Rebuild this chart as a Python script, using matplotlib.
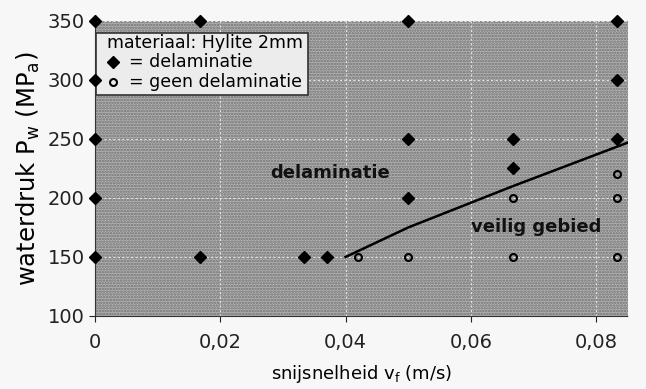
import numpy as np
import matplotlib
matplotlib.use("Agg")
from matplotlib import pyplot as plt
from matplotlib.patches import Rectangle
from matplotlib.ticker import FuncFormatter

# delaminatie (filled diamonds)
delam_x = [0, 0, 0, 0, 0, 0.0167, 0.0167, 0.0333, 0.037,
           0.05, 0.05, 0.05, 0.0667, 0.0667, 0.0833, 0.0833, 0.0833]
delam_y = [350, 300, 250, 200, 150, 350, 150, 150, 150,
           350, 250, 200, 250, 225, 350, 300, 250]

# geen delaminatie (open circles)
safe_x = [0.042, 0.05, 0.0667, 0.0667, 0.0833, 0.0833, 0.0833]
safe_y = [150, 150, 200, 150, 220, 200, 150]

# grenslijn
border_x = [0.04, 0.05, 0.0667, 0.0851]
border_y = [150, 175, 210, 247]

x_ticks = [0, 0.02, 0.04, 0.06, 0.08]
y_ticks = [100, 150, 200, 250, 300, 350]

plt.rcParams['font.family'] = ['DejaVu Sans']
plt.rcParams['hatch.linewidth'] = 1.2

fig = plt.figure(figsize=(6.46, 3.89), dpi=100)
fig.patch.set_facecolor('#f7f7f7')
ax = fig.add_axes([0.1471, 0.1877, 0.8251, 0.7584])

ax.set_facecolor('#b4b4b4')
# halftone-achtige textuur
ax.add_patch(Rectangle((0, 0), 1, 1, transform=ax.transAxes, fill=False,
                       hatch='......', ec='#6e6e6e', lw=0, zorder=0.5))

ax.set_xlim(0, 0.0851)
ax.set_ylim(100, 350)
ax.set_xticks(x_ticks)
ax.set_yticks(y_ticks)
ax.xaxis.set_major_formatter(FuncFormatter(lambda v, p: '0' if v == 0 else ('%.2f' % v).replace('.', ',')))
ax.tick_params(labelsize=14, colors='#222222', length=4)
ax.tick_params(axis='x', pad=8)
ax.grid(True, color='#e2e2e2', linestyle=(0, (2, 2)), linewidth=0.8, zorder=1)
ax.set_axisbelow(True)

for s in ['top', 'right']:
    ax.spines[s].set_visible(False)
for s in ['left', 'bottom']:
    ax.spines[s].set_color('#333333')
    ax.spines[s].set_linestyle((0, (1, 1)))

ax.plot(border_x, border_y, color='black', lw=1.8, zorder=3)
ax.plot(delam_x, delam_y, 'D', color='black', ms=6, clip_on=False, zorder=5)
ax.plot(safe_x, safe_y, 'o', mfc='none', mec='black', mew=1.5, ms=5, clip_on=False, zorder=5)

ax.text(0.0375, 221, 'delaminatie', fontsize=13, fontweight='bold', ha='center', va='center', color='#111111')
ax.text(0.0704, 175, 'veilig gebied', fontsize=13, fontweight='bold', ha='center', va='center', color='#111111')

ax.set_xlabel('snijsnelheid v$_\\mathregular{f}$ (m/s)', fontsize=13, labelpad=8)
ax.set_ylabel('waterdruk P$_\\mathregular{w}$ (MP$_\\mathregular{a}$)', fontsize=17.5, labelpad=4)

# legendablok
ax.add_patch(Rectangle((0.002, 0.749), 0.398, 0.210, transform=ax.transAxes,
                       fc='#ececec', ec='#333333', lw=1.2, zorder=4))
ax.text(0.022, 0.925, 'materiaal: Hylite 2mm', fontsize=12.5, va='center', transform=ax.transAxes, zorder=6)
ax.plot([0.034], [0.861], 'D', color='black', ms=6, transform=ax.transAxes, zorder=6)
ax.plot([0.034], [0.793], 'o', mfc='none', mec='black', mew=1.5, ms=5, transform=ax.transAxes, zorder=6)
ax.text(0.064, 0.861, '= delaminatie', fontsize=12.5, va='center', transform=ax.transAxes, zorder=6)
ax.text(0.064, 0.793, '= geen delaminatie', fontsize=12.5, va='center', transform=ax.transAxes, zorder=6)

fig.savefig('out.png', dpi=100, facecolor=fig.get_facecolor())
